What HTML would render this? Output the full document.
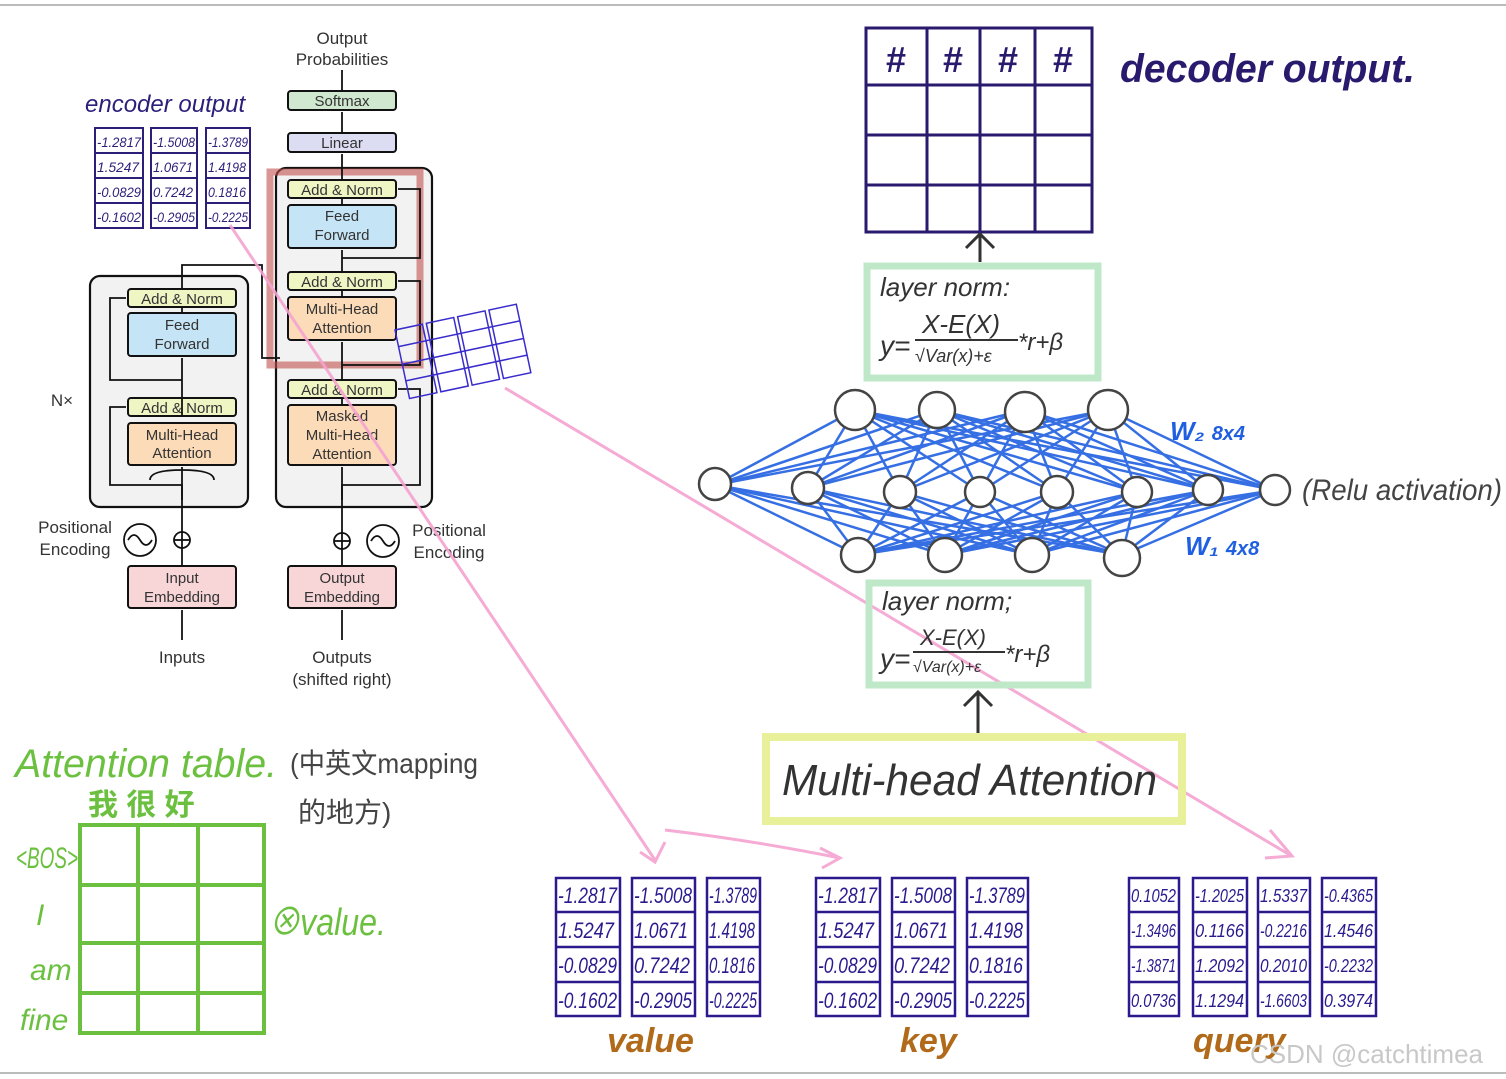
<!DOCTYPE html>
<html><head><meta charset="utf-8"><style>
html,body{margin:0;padding:0;background:#fff;}
svg{display:block;}
</style></head><body>
<svg width="1506" height="1079" viewBox="0 0 1506 1079" xmlns="http://www.w3.org/2000/svg" font-family="Liberation Sans, Noto Sans CJK SC, sans-serif">
<rect width="1506" height="1079" fill="#fff"/>
<line x1="0" y1="5" x2="1506" y2="5" stroke="#bbb" stroke-width="2"/>
<line x1="0" y1="1073" x2="1506" y2="1073" stroke="#bbb" stroke-width="2"/>

<!-- ===== Transformer ===== -->
<g stroke="#111" stroke-width="2.2">
<rect x="90" y="276" width="158" height="231" rx="10" fill="#f2f2f2"/>
<rect x="276" y="168" width="156" height="339" rx="10" fill="#f2f2f2"/>
</g>
<rect x="270" y="172" width="150" height="193" fill="none" stroke="#c0504d" stroke-opacity="0.6" stroke-width="7"/>
<g stroke="#111" stroke-width="2" text-anchor="middle">
<rect x="128" y="289" width="108" height="18" rx="3" fill="#f0f5c4"/>
<rect x="128" y="313" width="108" height="43" rx="3" fill="#c5e4f5"/>
<rect x="128" y="398" width="108" height="18" rx="3" fill="#f0f5c4"/>
<rect x="128" y="423" width="108" height="42" rx="3" fill="#fcdcb8"/>
<rect x="288" y="180" width="108" height="18" rx="3" fill="#f0f5c4"/>
<rect x="288" y="205" width="108" height="43" rx="3" fill="#c5e4f5"/>
<rect x="288" y="272" width="108" height="18" rx="3" fill="#f0f5c4"/>
<rect x="288" y="297" width="108" height="43" rx="3" fill="#fcdcb8"/>
<rect x="288" y="380" width="108" height="18" rx="3" fill="#f0f5c4"/>
<rect x="288" y="405" width="108" height="60" rx="3" fill="#fcdcb8"/>
<rect x="288" y="133" width="108" height="19" rx="3" fill="#dcdcf2"/>
<rect x="288" y="91" width="108" height="19" rx="3" fill="#cfe8cf"/>
<rect x="128" y="566" width="108" height="42" rx="3" fill="#f8d6d8"/>
<rect x="288" y="566" width="108" height="42" rx="3" fill="#f8d6d8"/>
</g>
<g font-size="15" fill="#333" text-anchor="middle">
<text x="182" y="304">Add &amp; Norm</text>
<text x="182" y="330">Feed</text><text x="182" y="349">Forward</text>
<text x="182" y="413">Add &amp; Norm</text>
<text x="182" y="440">Multi-Head</text><text x="182" y="458">Attention</text>
<text x="342" y="195">Add &amp; Norm</text>
<text x="342" y="221">Feed</text><text x="342" y="240">Forward</text>
<text x="342" y="287">Add &amp; Norm</text>
<text x="342" y="314">Multi-Head</text><text x="342" y="333">Attention</text>
<text x="342" y="395">Add &amp; Norm</text>
<text x="342" y="421">Masked</text><text x="342" y="440">Multi-Head</text><text x="342" y="459">Attention</text>
<text x="342" y="148">Linear</text>
<text x="342" y="106">Softmax</text>
<text x="182" y="583">Input</text><text x="182" y="602">Embedding</text>
<text x="342" y="583">Output</text><text x="342" y="602">Embedding</text>
<text x="342" y="44" font-size="17">Output</text><text x="342" y="65" font-size="17">Probabilities</text>
<text x="182" y="663" font-size="17">Inputs</text>
<text x="342" y="663" font-size="17">Outputs</text><text x="342" y="685" font-size="17">(shifted right)</text>
<text x="62" y="406" font-size="17">N×</text>
<text x="75" y="533" font-size="17">Positional</text><text x="75" y="555" font-size="17">Encoding</text>
<text x="449" y="536" font-size="17">Positional</text><text x="449" y="558" font-size="17">Encoding</text>
</g>
<g stroke="#111" stroke-width="1.8" fill="none">
<line x1="182" y1="640" x2="182" y2="610"/><line x1="182" y1="566" x2="182" y2="548"/>
<line x1="182" y1="532" x2="182" y2="467"/><line x1="182" y1="416" x2="182" y2="398"/>
<line x1="182" y1="398" x2="182" y2="358"/><line x1="182" y1="313" x2="182" y2="307"/>
<path d="M182 289 V265 H262 V358 H280"/>
<line x1="342" y1="640" x2="342" y2="610"/><line x1="342" y1="566" x2="342" y2="549"/>
<line x1="342" y1="533" x2="342" y2="467"/><line x1="342" y1="405" x2="342" y2="398"/>
<line x1="342" y1="380" x2="342" y2="342"/><line x1="342" y1="297" x2="342" y2="290"/>
<line x1="342" y1="272" x2="342" y2="250"/><line x1="342" y1="205" x2="342" y2="198"/>
<line x1="342" y1="180" x2="342" y2="154"/><line x1="342" y1="133" x2="342" y2="112"/>
<line x1="342" y1="91" x2="342" y2="70"/>
<path d="M182 500 V485 H110 V407 H126"/><path d="M182 380 H110 V298 H126"/>
<path d="M342 500 V485 H420 V389 H398"/><path d="M342 365 H420 V281 H398"/>
<path d="M342 258 H420 V189 H398"/>
<path d="M150 480 Q150 470 182 470 Q214 470 214 480"/>
<circle cx="140" cy="540" r="16"/><path d="M128 540 q6 -10 12 0 t12 0"/>
<circle cx="182" cy="540" r="8"/><line x1="174" y1="540" x2="190" y2="540"/><line x1="182" y1="532" x2="182" y2="548"/>
<circle cx="383" cy="541" r="16"/><path d="M371 541 q6 -10 12 0 t12 0"/>
<circle cx="342" cy="541" r="8"/><line x1="334" y1="541" x2="350" y2="541"/><line x1="342" y1="533" x2="342" y2="549"/>
</g>

<!-- encoder output -->
<text x="85" y="112" font-size="24" fill="#2c1f7a" font-style="italic">encoder output</text>
<g stroke="#2c1f7a" stroke-width="2" fill="none">
<rect x="95" y="128" width="48" height="100"/><rect x="151" y="128" width="46" height="100"/><rect x="206" y="128" width="44" height="100"/>
<path d="M95 153H143M95 178H143M95 203H143M151 153H197M151 178H197M151 203H197M206 153H250M206 178H250M206 203H250"/>
</g>
<g font-size="14" fill="#2c1f7a" font-style="italic" lengthAdjust="spacingAndGlyphs">
<text x="97" y="147" textLength="44" lengthAdjust="spacingAndGlyphs">-1.2817</text><text x="153" y="147" textLength="42" lengthAdjust="spacingAndGlyphs">-1.5008</text><text x="208" y="147" textLength="40" lengthAdjust="spacingAndGlyphs">-1.3789</text>
<text x="97" y="172" textLength="42" lengthAdjust="spacingAndGlyphs">1.5247</text><text x="153" y="172" textLength="40" lengthAdjust="spacingAndGlyphs">1.0671</text><text x="208" y="172" textLength="38" lengthAdjust="spacingAndGlyphs">1.4198</text>
<text x="97" y="197" textLength="44" lengthAdjust="spacingAndGlyphs">-0.0829</text><text x="153" y="197" textLength="40" lengthAdjust="spacingAndGlyphs">0.7242</text><text x="208" y="197" textLength="38" lengthAdjust="spacingAndGlyphs">0.1816</text>
<text x="97" y="222" textLength="44" lengthAdjust="spacingAndGlyphs">-0.1602</text><text x="153" y="222" textLength="42" lengthAdjust="spacingAndGlyphs">-0.2905</text><text x="208" y="222" textLength="40" lengthAdjust="spacingAndGlyphs">-0.2225</text>
</g>
<!-- tilted small query -->
<g transform="translate(395,330) rotate(-12)" stroke="#3a2ccc" stroke-width="1.5" fill="none">
<rect x="0" y="0" width="28" height="70"/><rect x="32" y="0" width="28" height="70"/><rect x="64" y="0" width="28" height="70"/><rect x="96" y="0" width="28" height="70"/>
<path d="M0 17H124M0 35H124M0 52H124"/>
</g>

<!-- pink lines -->
<g stroke="#f4a3d0" stroke-width="3" fill="none" opacity="0.9">
<line x1="230" y1="225" x2="655" y2="860"/>
<line x1="505" y1="388" x2="1290" y2="855"/>
<path d="M640 852 L655 862 L665 842"/>
<path d="M665 830 Q750 840 840 858"/><path d="M820 848 L840 858 L822 868"/>
<path d="M1270 830 L1292 856 L1265 858"/>
</g>

<!-- decoder output -->
<g stroke="#2a1a6e" stroke-width="3" fill="none">
<rect x="866" y="28" width="226" height="204"/>
<path d="M927 28V232M980 28V232M1035 28V232M866 85H1092M866 135H1092M866 185H1092"/>
</g>
<g font-size="36" fill="#2a1a6e" font-weight="bold" text-anchor="middle">
<text x="896" y="72">#</text><text x="953" y="72">#</text><text x="1008" y="72">#</text><text x="1063" y="72">#</text>
</g>
<text x="1120" y="82" font-size="40" fill="#2a1a6e" font-weight="bold" font-style="italic" textLength="295" lengthAdjust="spacingAndGlyphs">decoder output.</text>
<g stroke="#333" stroke-width="3" fill="none">
<path d="M980 262V236M966 248L980 234L994 248"/>
<path d="M978 735V692M964 706L978 692L992 706"/>
</g>

<!-- layer norms -->
<rect x="867" y="266" width="231" height="112" fill="none" stroke="#bfe8c8" stroke-width="7"/>
<text x="880" y="296" font-size="26" fill="#333" font-style="italic">layer norm:</text>
<text x="880" y="355" font-size="28" fill="#333" font-style="italic">y=</text>
<text x="922" y="333" font-size="26" fill="#333" font-style="italic">X-E(X)</text>
<line x1="915" y1="340" x2="1018" y2="340" stroke="#333" stroke-width="2"/>
<text x="915" y="362" font-size="18" fill="#333" font-style="italic">√Var(x)+ε</text>
<text x="1018" y="350" font-size="24" fill="#333" font-style="italic">*r+β</text>

<rect x="869" y="583" width="219" height="102" fill="none" stroke="#bfe8c8" stroke-width="7"/>
<text x="882" y="610" font-size="26" fill="#333" font-style="italic">layer norm;</text>
<text x="880" y="668" font-size="28" fill="#333" font-style="italic">y=</text>
<text x="920" y="645" font-size="22" fill="#333" font-style="italic">X-E(X)</text>
<line x1="913" y1="652" x2="1005" y2="652" stroke="#333" stroke-width="2"/>
<text x="913" y="672" font-size="16" fill="#333" font-style="italic">√Var(x)+ε</text>
<text x="1005" y="662" font-size="24" fill="#333" font-style="italic">*r+β</text>

<!-- neural net -->
<g stroke="#2060e0" stroke-width="2.5" opacity="0.9">
<line x1="855" y1="410" x2="715" y2="485"/><line x1="855" y1="410" x2="808" y2="488"/><line x1="855" y1="410" x2="900" y2="492"/><line x1="855" y1="410" x2="980" y2="492"/><line x1="855" y1="410" x2="1057" y2="492"/><line x1="855" y1="410" x2="1137" y2="492"/><line x1="855" y1="410" x2="1208" y2="490"/><line x1="855" y1="410" x2="1275" y2="490"/>
<line x1="937" y1="410" x2="715" y2="485"/><line x1="937" y1="410" x2="808" y2="488"/><line x1="937" y1="410" x2="900" y2="492"/><line x1="937" y1="410" x2="980" y2="492"/><line x1="937" y1="410" x2="1057" y2="492"/><line x1="937" y1="410" x2="1137" y2="492"/><line x1="937" y1="410" x2="1208" y2="490"/><line x1="937" y1="410" x2="1275" y2="490"/>
<line x1="1025" y1="410" x2="715" y2="485"/><line x1="1025" y1="410" x2="808" y2="488"/><line x1="1025" y1="410" x2="900" y2="492"/><line x1="1025" y1="410" x2="980" y2="492"/><line x1="1025" y1="410" x2="1057" y2="492"/><line x1="1025" y1="410" x2="1137" y2="492"/><line x1="1025" y1="410" x2="1208" y2="490"/><line x1="1025" y1="410" x2="1275" y2="490"/>
<line x1="1108" y1="410" x2="715" y2="485"/><line x1="1108" y1="410" x2="808" y2="488"/><line x1="1108" y1="410" x2="900" y2="492"/><line x1="1108" y1="410" x2="980" y2="492"/><line x1="1108" y1="410" x2="1057" y2="492"/><line x1="1108" y1="410" x2="1137" y2="492"/><line x1="1108" y1="410" x2="1208" y2="490"/><line x1="1108" y1="410" x2="1275" y2="490"/>
<line x1="858" y1="555" x2="715" y2="485"/><line x1="858" y1="555" x2="808" y2="488"/><line x1="858" y1="555" x2="900" y2="492"/><line x1="858" y1="555" x2="980" y2="492"/><line x1="858" y1="555" x2="1057" y2="492"/><line x1="858" y1="555" x2="1137" y2="492"/><line x1="858" y1="555" x2="1208" y2="490"/><line x1="858" y1="555" x2="1275" y2="490"/>
<line x1="945" y1="555" x2="715" y2="485"/><line x1="945" y1="555" x2="808" y2="488"/><line x1="945" y1="555" x2="900" y2="492"/><line x1="945" y1="555" x2="980" y2="492"/><line x1="945" y1="555" x2="1057" y2="492"/><line x1="945" y1="555" x2="1137" y2="492"/><line x1="945" y1="555" x2="1208" y2="490"/><line x1="945" y1="555" x2="1275" y2="490"/>
<line x1="1032" y1="555" x2="715" y2="485"/><line x1="1032" y1="555" x2="808" y2="488"/><line x1="1032" y1="555" x2="900" y2="492"/><line x1="1032" y1="555" x2="980" y2="492"/><line x1="1032" y1="555" x2="1057" y2="492"/><line x1="1032" y1="555" x2="1137" y2="492"/><line x1="1032" y1="555" x2="1208" y2="490"/><line x1="1032" y1="555" x2="1275" y2="490"/>
<line x1="1122" y1="555" x2="715" y2="485"/><line x1="1122" y1="555" x2="808" y2="488"/><line x1="1122" y1="555" x2="900" y2="492"/><line x1="1122" y1="555" x2="980" y2="492"/><line x1="1122" y1="555" x2="1057" y2="492"/><line x1="1122" y1="555" x2="1137" y2="492"/><line x1="1122" y1="555" x2="1208" y2="490"/><line x1="1122" y1="555" x2="1275" y2="490"/>
</g>
<g fill="#fff" stroke="#444" stroke-width="2.5">
<circle cx="855" cy="410" r="20"/><circle cx="937" cy="410" r="18"/><circle cx="1025" cy="412" r="20"/><circle cx="1108" cy="410" r="20"/>
<circle cx="715" cy="484" r="16"/><circle cx="808" cy="488" r="16"/><circle cx="900" cy="492" r="16"/><circle cx="980" cy="492" r="15"/><circle cx="1057" cy="492" r="16"/><circle cx="1137" cy="492" r="15"/><circle cx="1208" cy="490" r="15"/><circle cx="1275" cy="490" r="15"/>
<circle cx="858" cy="555" r="17"/><circle cx="945" cy="555" r="17"/><circle cx="1032" cy="555" r="17"/><circle cx="1122" cy="558" r="18"/>
</g>
<text x="1170" y="440" font-size="26" fill="#2060e0" font-style="italic" font-weight="bold">W₂ <tspan font-size="20">8x4</tspan></text>
<text x="1185" y="555" font-size="26" fill="#2060e0" font-style="italic" font-weight="bold">W₁ <tspan font-size="20">4x8</tspan></text>
<text x="1302" y="500" font-size="30" fill="#444" font-style="italic" textLength="200" lengthAdjust="spacingAndGlyphs">(Relu activation)</text>

<!-- multi-head attention box -->
<rect x="766" y="737" width="416" height="84" fill="none" stroke="#e8f09a" stroke-width="8"/>
<text x="782" y="795" font-size="44" fill="#333" font-style="italic" textLength="375" lengthAdjust="spacingAndGlyphs">Multi-head Attention</text>

<!-- bottom matrices -->
<g stroke="#2a1a8e" stroke-width="2.5" fill="none">
<rect x="556" y="878" width="64" height="138"/><rect x="632" y="878" width="63" height="138"/><rect x="707" y="878" width="53" height="138"/>
<path d="M556 912H620M556 947H620M556 982H620M632 912H695M632 947H695M632 982H695M707 912H760M707 947H760M707 982H760"/>
<rect x="816" y="878" width="64" height="138"/><rect x="892" y="878" width="63" height="138"/><rect x="967" y="878" width="61" height="138"/>
<path d="M816 912H880M816 947H880M816 982H880M892 912H955M892 947H955M892 982H955M967 912H1028M967 947H1028M967 982H1028"/>
<rect x="1129" y="878" width="50" height="138"/><rect x="1193" y="878" width="54" height="138"/><rect x="1258" y="878" width="52" height="138"/><rect x="1322" y="878" width="54" height="138"/>
<path d="M1129 912H1179M1129 947H1179M1129 982H1179M1193 912H1247M1193 947H1247M1193 982H1247M1258 912H1310M1258 947H1310M1258 982H1310M1322 912H1376M1322 947H1376M1322 982H1376"/>
</g>
<g font-size="22" fill="#2a1a8e" font-style="italic">
<text x="558" y="903" textLength="59" lengthAdjust="spacingAndGlyphs">-1.2817</text><text x="634" y="903" textLength="58" lengthAdjust="spacingAndGlyphs">-1.5008</text><text x="709" y="903" textLength="48" lengthAdjust="spacingAndGlyphs">-1.3789</text>
<text x="558" y="938" textLength="56" lengthAdjust="spacingAndGlyphs">1.5247</text><text x="634" y="938" textLength="54" lengthAdjust="spacingAndGlyphs">1.0671</text><text x="709" y="938" textLength="46" lengthAdjust="spacingAndGlyphs">1.4198</text>
<text x="558" y="973" textLength="59" lengthAdjust="spacingAndGlyphs">-0.0829</text><text x="634" y="973" textLength="56" lengthAdjust="spacingAndGlyphs">0.7242</text><text x="709" y="973" textLength="46" lengthAdjust="spacingAndGlyphs">0.1816</text>
<text x="558" y="1008" textLength="59" lengthAdjust="spacingAndGlyphs">-0.1602</text><text x="634" y="1008" textLength="58" lengthAdjust="spacingAndGlyphs">-0.2905</text><text x="709" y="1008" textLength="48" lengthAdjust="spacingAndGlyphs">-0.2225</text>
<text x="818" y="903" textLength="59" lengthAdjust="spacingAndGlyphs">-1.2817</text><text x="894" y="903" textLength="58" lengthAdjust="spacingAndGlyphs">-1.5008</text><text x="969" y="903" textLength="56" lengthAdjust="spacingAndGlyphs">-1.3789</text>
<text x="818" y="938" textLength="56" lengthAdjust="spacingAndGlyphs">1.5247</text><text x="894" y="938" textLength="54" lengthAdjust="spacingAndGlyphs">1.0671</text><text x="969" y="938" textLength="54" lengthAdjust="spacingAndGlyphs">1.4198</text>
<text x="818" y="973" textLength="59" lengthAdjust="spacingAndGlyphs">-0.0829</text><text x="894" y="973" textLength="56" lengthAdjust="spacingAndGlyphs">0.7242</text><text x="969" y="973" textLength="54" lengthAdjust="spacingAndGlyphs">0.1816</text>
<text x="818" y="1008" textLength="59" lengthAdjust="spacingAndGlyphs">-0.1602</text><text x="894" y="1008" textLength="58" lengthAdjust="spacingAndGlyphs">-0.2905</text><text x="969" y="1008" textLength="56" lengthAdjust="spacingAndGlyphs">-0.2225</text>
</g>
<g font-size="18" fill="#2a1a8e" font-style="italic">
<text x="1131" y="902" textLength="45" lengthAdjust="spacingAndGlyphs">0.1052</text><text x="1195" y="902" textLength="49" lengthAdjust="spacingAndGlyphs">-1.2025</text><text x="1260" y="902" textLength="47" lengthAdjust="spacingAndGlyphs">1.5337</text><text x="1324" y="902" textLength="49" lengthAdjust="spacingAndGlyphs">-0.4365</text>
<text x="1131" y="937" textLength="45" lengthAdjust="spacingAndGlyphs">-1.3496</text><text x="1195" y="937" textLength="49" lengthAdjust="spacingAndGlyphs">0.1166</text><text x="1260" y="937" textLength="47" lengthAdjust="spacingAndGlyphs">-0.2216</text><text x="1324" y="937" textLength="49" lengthAdjust="spacingAndGlyphs">1.4546</text>
<text x="1131" y="972" textLength="45" lengthAdjust="spacingAndGlyphs">-1.3871</text><text x="1195" y="972" textLength="49" lengthAdjust="spacingAndGlyphs">1.2092</text><text x="1260" y="972" textLength="47" lengthAdjust="spacingAndGlyphs">0.2010</text><text x="1324" y="972" textLength="49" lengthAdjust="spacingAndGlyphs">-0.2232</text>
<text x="1131" y="1007" textLength="45" lengthAdjust="spacingAndGlyphs">0.0736</text><text x="1195" y="1007" textLength="49" lengthAdjust="spacingAndGlyphs">1.1294</text><text x="1260" y="1007" textLength="47" lengthAdjust="spacingAndGlyphs">-1.6603</text><text x="1324" y="1007" textLength="49" lengthAdjust="spacingAndGlyphs">0.3974</text>
</g>
<g font-size="34" fill="#b06a1a" font-style="italic" font-weight="bold">
<text x="607" y="1052">value</text><text x="900" y="1052">key</text><text x="1193" y="1052">query</text>
</g>
<text x="1250" y="1063" font-size="26" fill="#c8c8c8">CSDN @catchtimea</text>

<!-- attention table -->
<text x="15" y="777" font-size="40" fill="#6cc040" font-style="italic" textLength="262" lengthAdjust="spacingAndGlyphs">Attention table.</text>
<text x="290" y="773" font-size="28" fill="#444" textLength="188" lengthAdjust="spacingAndGlyphs">(中英文mapping</text>
<text x="298" y="822" font-size="28" fill="#444">的地方)</text>
<text x="88" y="815" font-size="30" fill="#6cc040" font-weight="bold">我 很 好</text>
<g stroke="#6cc040" stroke-width="4" fill="none">
<rect x="80" y="825" width="184" height="208"/>
<path d="M138 825V1033M198 825V1033M80 885H264M80 943H264M80 993H264"/>
</g>
<g font-size="30" fill="#6cc040" font-style="italic">
<text x="16" y="868" textLength="62" lengthAdjust="spacingAndGlyphs">&lt;BOS&gt;</text><text x="36" y="925">I</text><text x="30" y="980">am</text><text x="20" y="1030">fine</text>
<text x="268" y="935" font-size="38" textLength="118" lengthAdjust="spacingAndGlyphs">⊗value.</text>
</g>
</svg>
</body></html>
